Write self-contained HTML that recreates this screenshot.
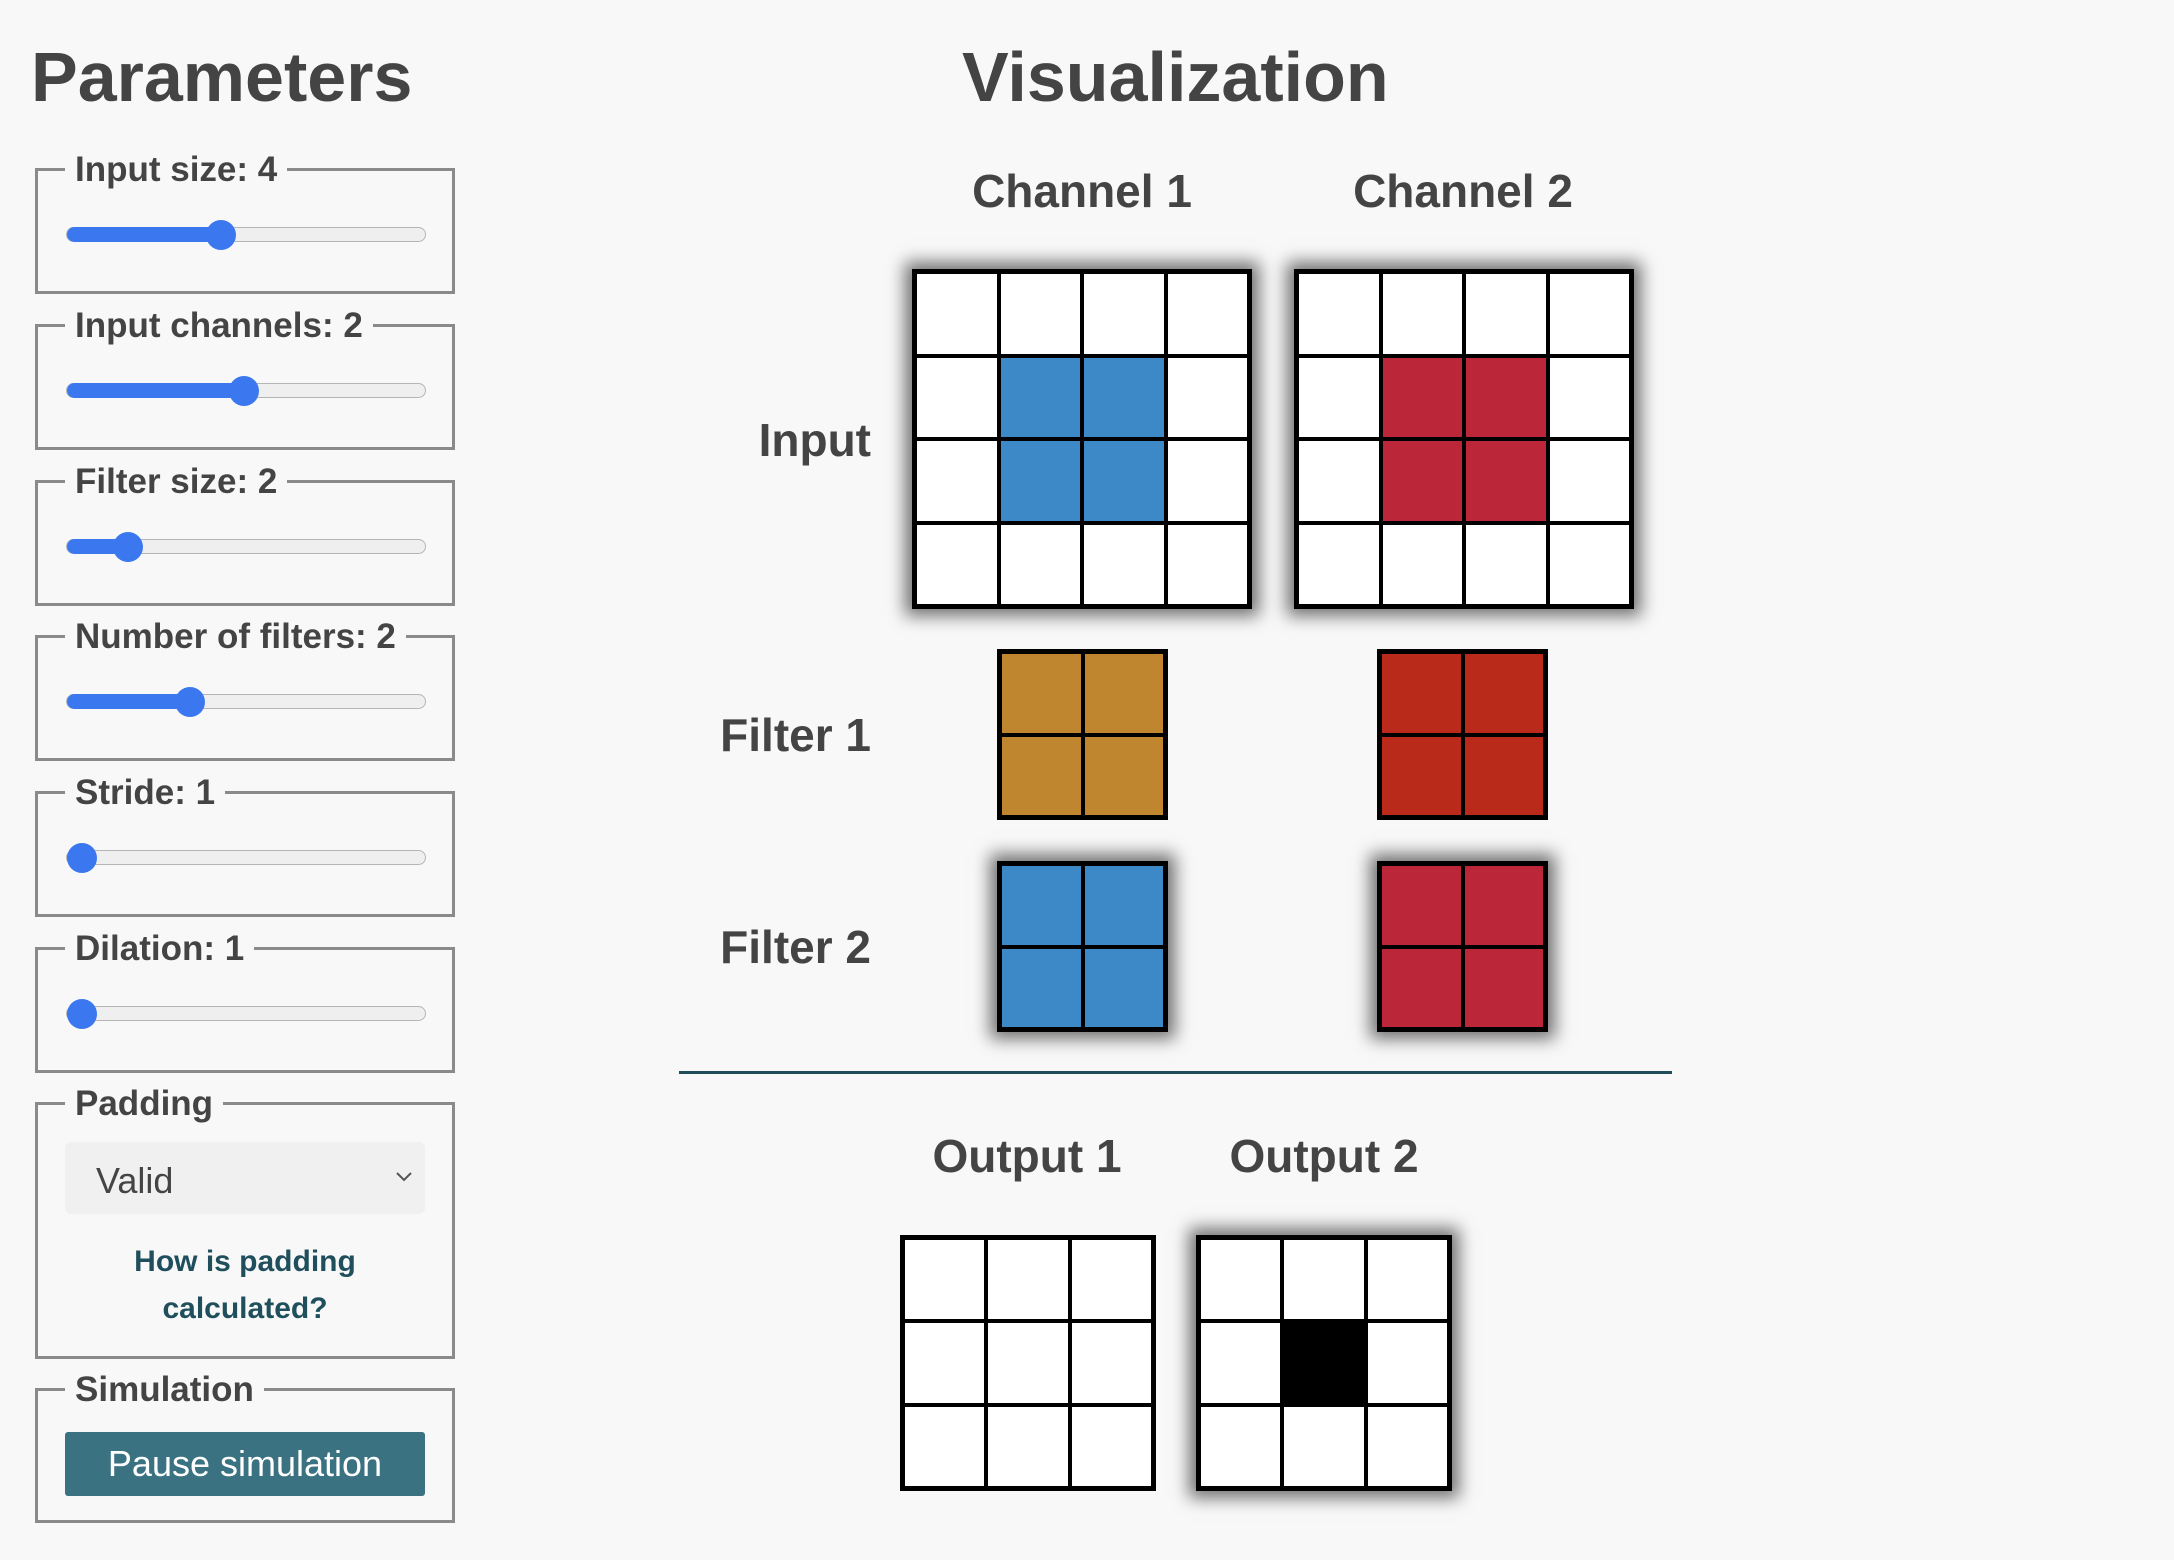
<!DOCTYPE html>
<html><head><meta charset="utf-8">
<style>
html,body{margin:0;padding:0;}
body{width:2174px;height:1560px;background:#f8f8f8;position:relative;overflow:hidden;font-family:"Liberation Sans",sans-serif;color:#444;}
.abs{position:absolute;}
h1{position:absolute;margin:0;font-size:70px;font-weight:bold;line-height:1;color:#444;}
fieldset{position:absolute;left:35px;width:420px;margin:0;padding:0;border:3px solid #8a8a8a;box-sizing:border-box;}
fieldset legend{font-size:35px;font-weight:bold;color:#444;padding:0 10px;margin-left:27px;line-height:1;}
.track{position:absolute;left:28px;width:360px;height:15px;border-radius:8px;background:#efefef;border:1px solid #b5b5b5;box-sizing:border-box;}
.fill{position:absolute;left:0;top:-1px;height:15px;background:#3b78f0;border-radius:8px;}
.thumb{position:absolute;top:-8px;width:30px;height:30px;border-radius:50%;background:#3b78f0;margin-left:-15px;}
.lbl{position:absolute;font-size:46px;font-weight:bold;color:#444;line-height:1;white-space:nowrap;}
.grid{position:absolute;background:#000;display:grid;box-sizing:border-box;border:5px solid #000;gap:4px;}
.grid.sh{box-shadow:0 0 16px 7px rgba(0,0,0,0.55);}
.grid .c{background:#fff;}
</style></head><body>
<h1 style="left:31px;top:42px;">Parameters</h1>
<h1 style="left:962px;top:42px;">Visualization</h1>

<div id="params"></div>

<fieldset style="top:1086px;height:273px;">
<legend>Padding</legend>
<div class="abs" style="left:27px;top:21px;width:360px;height:72px;background:#f0f0f0;border-radius:6px;">
<span class="abs" style="left:31px;top:18px;font-size:36px;color:#444;">Valid</span>
<svg class="abs" style="left:330px;top:28px" width="18" height="14"><polyline points="2,3 9,10 16,3" fill="none" stroke="#555" stroke-width="2"/></svg>
</div>
<div class="abs" style="left:0;width:414px;top:117px;text-align:center;font-size:30px;font-weight:bold;color:#1f4f5c;line-height:47px;">How is padding<br>calculated?</div>
</fieldset>

<fieldset style="top:1372px;height:151px;">
<legend>Simulation</legend>
<div class="abs" style="left:27px;top:25px;width:360px;height:64px;background:#3a7282;border-radius:3px;color:#fff;font-size:36px;text-align:center;line-height:64px;">Pause simulation</div>
</fieldset>

<div class="lbl" style="left:1082px;top:168px;transform:translateX(-50%);">Channel 1</div>
<div class="lbl" style="left:1463px;top:168px;transform:translateX(-50%);">Channel 2</div>
<div class="lbl" style="right:1303px;top:417px;">Input</div>
<div class="lbl" style="right:1303px;top:712px;">Filter 1</div>
<div class="lbl" style="right:1303px;top:924px;">Filter 2</div>
<div class="abs" style="left:679px;top:1071px;width:993px;height:3px;background:#1f4e5a;"></div>
<div class="lbl" style="left:1027px;top:1133px;transform:translateX(-50%);">Output 1</div>
<div class="lbl" style="left:1324px;top:1133px;transform:translateX(-50%);">Output 2</div>

<div id="viz"></div>

<script>
const paramLabels = ["Input size: 4","Input channels: 2","Filter size: 2","Number of filters: 2","Stride: 1","Dilation: 1"];
const paramValues = [4, 2, 2, 2, 1, 1];
const paramMins = [1, 1, 1, 1, 1, 1];
const paramMaxs = [8, 3, 8, 4, 4, 4];
const paramNames = ["input-size","input-channels","filter-size","number-of-filters","stride","dilation"];
const thumbFrac = [0.426, 0.497, 0.141, 0.331, 0.0, 0.0];

const inputCh1 = [0,0,0,0, 0,1,1,0, 0,1,1,0, 0,0,0,0];
const inputCh2 = [0,0,0,0, 0,1,1,0, 0,1,1,0, 0,0,0,0];
const filter1Ch1 = [1,1,1,1];
const filter1Ch2 = [1,1,1,1];
const filter2Ch1 = [1,1,1,1];
const filter2Ch2 = [1,1,1,1];
const output1 = [0,0,0, 0,0,0, 0,0,0];
const output2 = [0,0,0, 0,1,0, 0,0,0];

const P = document.getElementById('params');
paramLabels.forEach((t,i)=>{
  const fs=document.createElement('fieldset');
  
  
  fs.style.top=(152+i*155.8)+'px'; fs.style.height='142px';
  const lg=document.createElement('legend'); lg.textContent=t;
  
  
  fs.appendChild(lg);
  const tr=document.createElement('div'); tr.className='track'; tr.style.top='40px';
  
  
  const f=thumbFrac[i];
  const fill=document.createElement('div'); fill.className='fill'; fill.style.width=(f*326+20)+'px';
  
  
  const th=document.createElement('div'); th.className='thumb'; th.style.left=(15+f*326)+'px';
  
  
  tr.appendChild(fill); tr.appendChild(th); fs.appendChild(tr);
  P.appendChild(fs);
});

const V=document.getElementById('viz');
function grid(name,vals,n,x,y,size,color,shadow){
  const g=document.createElement('div');
  g.className='grid'+(shadow?' sh':'');
  
  
  g.style.left=x+'px'; g.style.top=y+'px'; g.style.width=size+'px'; g.style.height=size+'px';
  g.style.gridTemplateColumns='repeat('+n+',1fr)'; g.style.gridTemplateRows='repeat('+n+',1fr)';
  vals.forEach((v,k)=>{
    const c=document.createElement('div'); c.className='c';
    
    
    if(v) c.style.background=color;
    g.appendChild(c);
  });
  V.appendChild(g);
}
grid('input-channel-1-grid',inputCh1,4,912,269,340,'#3d88c6',true);
grid('input-channel-2-grid',inputCh2,4,1294,269,340,'#bb2639',true);
grid('filter-1-channel-1-grid',filter1Ch1,2,997,649,171,'#c0862f',false);
grid('filter-1-channel-2-grid',filter1Ch2,2,1377,649,171,'#b92a1b',false);
grid('filter-2-channel-1-grid',filter2Ch1,2,997,861,171,'#3d88c6',true);
grid('filter-2-channel-2-grid',filter2Ch2,2,1377,861,171,'#bb2639',true);
grid('output-1-grid',output1,3,900,1235,256,'#000',false);
grid('output-2-grid',output2,3,1196,1235,256,'#000',true);
</script>
</body></html>
